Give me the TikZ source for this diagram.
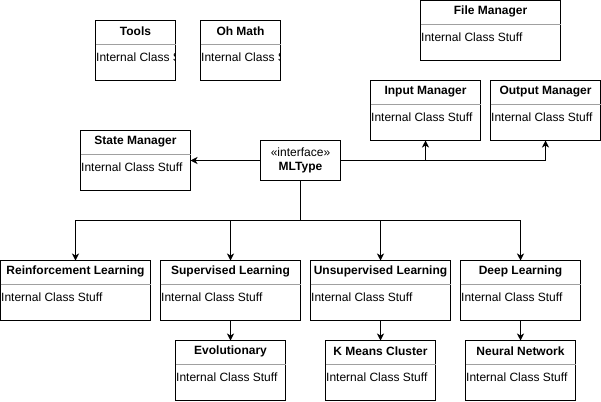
\documentclass[tikz,border=0pt]{standalone}
\usepackage{fontspec}
\setmainfont{Liberation Sans}
\usetikzlibrary{arrows.meta}
\tikzset{
  cbox/.style={draw=black, line width=1pt, fill=white, rectangle, inner sep=0pt, outer sep=0pt},
  sepline/.style={draw={rgb,255:red,160;green,160;blue,160}, line width=1pt},
  titletext/.style={font=\fontsize{12pt}{14pt}\selectfont\bfseries, inner sep=0pt},
  bodytext/.style={font=\fontsize{12pt}{14pt}\selectfont, inner sep=0pt, anchor=west},
  conn/.style={draw=black, line width=1pt, -{Stealth[length=7pt,width=7pt,inset=2pt]}},
}
\newcommand\classbox[6]{%
  \node[cbox, minimum width=#4pt, minimum height=#5pt, anchor=north west] (#1) at (#2+0.5,#3+0.5) {};
  \draw[sepline] ([yshift=-24pt]#1.north west) -- ([yshift=-24pt]#1.north east);
  \node[titletext] (#1-t) at ([yshift=-11pt]#1.north) {#6};
  \begin{scope}
    \clip (#1.north west) rectangle (#1.south east);
    \node[bodytext] (#1-b) at ([yshift=-37pt,xshift=0.5pt]#1.north west) {Internal Class Stuff};
  \end{scope}
}
\begin{document}
\begin{tikzpicture}[x=1pt,y=-1pt]
\useasboundingbox[fill=white] (0,0) rectangle (601,401);
\classbox{tools}{95}{20}{80}{60}{Tools}
\classbox{ohmath}{200}{20}{80}{60}{Oh Math}
\classbox{file}{420}{0}{140}{60}{File Manager}
\classbox{inp}{370}{80}{110}{60}{Input Manager}
\classbox{outp}{490}{80}{110}{60}{Output Manager}
\classbox{state}{80}{130}{110}{60}{State Manager}
\classbox{rl}{0}{260}{150}{60}{Reinforcement Learning}
\classbox{sl}{160}{260}{140}{60}{Supervised Learning}
\classbox{ul}{310}{260}{140}{60}{Unsupervised Learning}
\classbox{dl}{460}{260}{120}{60}{Deep Learning}
\classbox{evo}{175}{340}{110}{60}{Evolutionary}
\classbox{km}{325}{340}{110}{60}{K Means Cluster}
\classbox{nn}{465}{340}{110}{60}{Neural Network}
\node[cbox, minimum width=80pt, minimum height=40pt, anchor=north west, align=center,
      font=\fontsize{12pt}{13.5pt}\selectfont] (ml) at (260.5,140.5)
      {«interface»\\\textbf{MLType}};
\coordinate (bus) at ([yshift=-40pt]ml.south);
\draw[conn] (ml.west) -- (state.east);
\draw[conn] (ml.east) -| (inp.south);
\draw[conn] (ml.east) -| (outp.south);
\draw[conn] (ml.south) -- (bus) -| (rl.north);
\draw[conn] (ml.south) -- (bus) -| (sl.north);
\draw[conn] (ml.south) -- (bus) -| (ul.north);
\draw[conn] (ml.south) -- (bus) -| (dl.north);
\draw[conn] (sl.south) -- (evo.north);
\draw[conn] (ul.south) -- (km.north);
\draw[conn] (dl.south) -- (nn.north);
\end{tikzpicture}
\end{document}
